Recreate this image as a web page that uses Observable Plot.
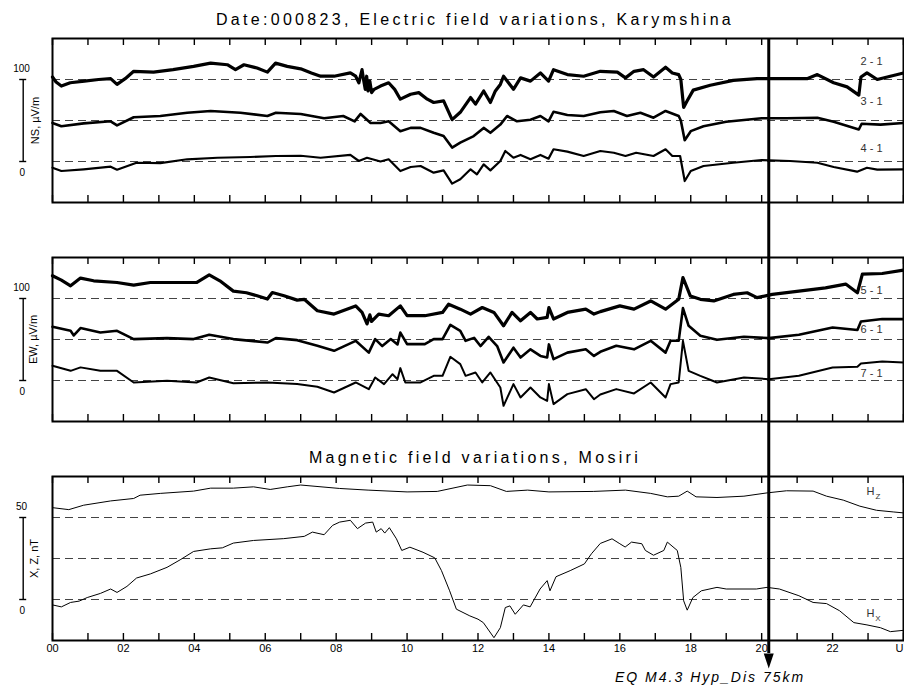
<!DOCTYPE html>
<html><head><meta charset="utf-8">
<script src="https://cdn.jsdelivr.net/npm/d3@7"></script>
<script src="https://cdn.jsdelivr.net/npm/@observablehq/plot@0.6"></script>
<style>
body{margin:0;background:#fff;}
#chart{position:relative;width:904px;height:686px;background:#fff;font-family:'Liberation Sans',Arial,sans-serif;overflow:hidden;color:#000}
#chart svg{position:absolute;left:0;}
.title{position:absolute;left:0;width:950px;text-align:center;font-size:16px;letter-spacing:3.3px;line-height:20px;white-space:nowrap}
.eq{position:absolute;left:615px;top:669px;font-size:14px;font-style:italic;letter-spacing:2px;line-height:16px;white-space:nowrap}
</style></head><body>
<div id="chart"></div>
<script>
// ---------- data ----------
const titleTop = "Date:000823, Electric field variations, Karymshina";
const titleMag = "Magnetic field variations, Mosiri";
const eqLabel = "EQ M4.3 Hyp_Dis 75km";
const eqTime = 20.2;

const tickHours = [0,1,2,3,4,5,6,7,8,9,10,11,12,13,14,15,16,17,18,19,20,21,22,23,24];
const labelHours = [0,2,4,6,8,10,12,14,16,18,20,22];
const labelTexts = ["00","02","04","06","08","10","12","14","16","18","20","22"];
const lastHour = 24;
const lastText = "U";

// electric NS  (µV/m, offsets 100 / 50 / 0)
const s21 = [[0,103],[0.1,97],[0.25,92],[0.5,96],[0.9,98],[1.3,100],[1.64,101],[1.82,94],[2.05,101],[2.29,110],[2.85,109],[3.4,112],[3.98,116],[4.46,120],[4.93,118],[5.16,112],[5.4,118],[5.77,114],[6.06,109],[6.29,120],[6.62,116],[7.0,113],[7.3,108],[7.56,104],[7.94,104],[8.4,108],[8.55,104],[8.64,96],[8.73,112],[8.78,98],[8.82,88],[8.86,104],[8.9,86],[8.95,98],[9.0,84],[9.07,88],[9.25,92],[9.48,96],[9.65,88],[9.81,76],[10.1,82],[10.33,84],[10.57,76],[10.75,72],[11.03,74],[11.27,51],[11.5,60],[11.79,78],[11.93,70],[12.16,86],[12.35,72],[12.49,86],[12.63,94],[12.72,104],[12.86,96],[13.0,88],[13.2,102],[13.48,98],[13.76,108],[13.99,98],[14.13,112],[14.52,106],[14.98,104],[15.45,110],[15.93,109],[16.16,102],[16.4,110],[16.67,112],[16.95,103],[17.29,115],[17.48,108],[17.66,106],[17.72,100],[17.8,66],[17.9,74],[18.07,87],[18.55,93],[19.2,99],[19.87,101],[20.6,101],[21.28,101],[21.57,106],[22.03,96],[22.41,91],[22.74,81],[22.8,103],[22.97,108],[23.26,100],[23.63,104],[24,108]];
const s31 = [[0,47],[0.25,43],[0.88,46.5],[1.64,49],[1.82,44],[2.29,54],[3.04,55.5],[3.8,59.5],[4.46,61.6],[5.3,59.5],[6.06,55.5],[6.3,59.5],[7.0,58],[7.66,52.7],[8.2,55.5],[8.52,49],[8.69,58],[8.97,47],[9.25,47],[9.48,49],[9.81,37],[10.1,41],[10.38,41],[10.75,35],[11.03,31],[11.27,17],[11.5,23],[11.88,31],[12.16,41],[12.35,35],[12.63,45],[12.82,55.5],[13.1,49],[13.48,51],[13.76,55.5],[13.99,49],[14.13,60.7],[14.52,56.7],[14.98,55.5],[15.45,60],[15.83,61.6],[16.2,55.5],[16.58,59.5],[16.95,53.4],[17.29,61.6],[17.66,55.5],[17.72,50],[17.83,26],[18.0,37],[18.36,43],[19.0,48.5],[20.0,52.7],[20.7,52.7],[21.57,53.4],[22.03,48.5],[22.74,39],[22.82,46],[23.35,45],[24,47]];
const s41 = [[0,-7.6],[0.25,-11.6],[0.88,-9.5],[1.64,-6.3],[1.82,-10],[2.37,-1.5],[3.04,-2],[3.8,2.7],[4.65,4.6],[5.58,5.5],[6.3,6.7],[7.0,7],[7.56,4.6],[8.4,8],[8.64,0.6],[8.87,4.6],[9.25,0],[9.48,2.7],[9.81,-11.6],[10.1,-6.7],[10.38,-5.5],[10.75,-13.6],[11.03,-10.8],[11.27,-27],[11.5,-21.7],[11.79,-9.5],[11.97,-15.6],[12.16,-3.5],[12.35,-10.8],[12.63,0.6],[12.77,12.8],[13.0,4.6],[13.2,8],[13.48,2.7],[13.76,8],[13.99,3.5],[14.13,14.9],[14.52,12],[14.98,6.7],[15.45,12.8],[15.83,10.7],[16.16,6.7],[16.46,10.7],[16.95,6.7],[17.29,14.9],[17.48,6.7],[17.7,6.7],[17.83,-23.8],[18.0,-11.6],[18.36,-5.5],[19.2,-1.5],[20.0,1.8],[20.8,0.6],[21.57,-1.5],[22.03,-6.7],[22.69,-12.4],[22.97,-7.6],[23.26,-10],[24,-9.5]];

// electric EW  (µV/m, offsets 100 / 50 / 0)
const s51 = [[0,127.7],[0.25,122.4],[0.51,115.5],[0.79,124.9],[1.16,121.6],[1.82,119.5],[2.29,116.3],[2.76,119.5],[3.5,119.5],[4.06,119.5],[4.42,128.9],[4.72,121.6],[5.1,109],[5.47,107],[5.77,103.3],[6.06,99.3],[6.2,107.3],[6.53,103.3],[6.9,98],[7.1,99],[7.47,85],[7.94,81],[8.55,91],[8.73,83],[8.87,69],[8.95,80],[9.0,72],[9.2,81],[9.48,79],[9.81,91],[10.0,79],[10.5,79],[11.0,83],[11.17,93],[11.5,87],[11.79,81],[12.12,89],[12.45,83],[12.72,66.7],[12.96,83],[13.2,72.8],[13.48,83],[13.67,75],[13.95,77],[14.0,89],[14.13,75],[14.52,83],[15.04,87],[15.27,81],[15.45,84],[16.0,91],[16.4,87],[16.87,97],[17.29,87],[17.66,99],[17.78,125.6],[17.99,103],[18.27,99],[18.65,97],[19.2,105],[19.59,107],[19.87,101],[20.3,105],[21.05,109],[21.8,113],[22.37,117.6],[22.7,107],[22.84,129.8],[23.4,130.5],[24,134.6]];
const s61 = [[0,65.5],[0.51,60.6],[0.6,55],[0.79,63.9],[1.35,58.5],[1.82,60.6],[2.29,50.5],[3.23,51.7],[3.98,50.5],[4.42,55.7],[5.1,50.5],[6.06,46.3],[6.3,51.7],[6.9,49.2],[7.47,42.3],[7.94,36.2],[8.55,48.4],[8.92,34],[9.1,50.5],[9.3,42],[9.54,50.5],[9.73,44],[9.81,58.5],[10.0,44.4],[10.5,44.4],[10.75,50.5],[11.0,50.5],[11.22,67.9],[11.5,60.6],[11.65,48.4],[11.89,52],[12.07,42],[12.3,53.3],[12.54,42],[12.72,22],[13.0,40],[13.2,28],[13.48,38],[13.76,30],[13.95,28],[14.0,44],[14.13,26],[14.52,34],[15.04,38],[15.27,30],[15.45,35],[15.9,42.3],[16.4,38],[16.87,48.4],[17.29,34],[17.43,48.4],[17.66,48.4],[17.78,88.3],[17.94,66.7],[18.27,54.5],[18.74,49.6],[19.5,53.3],[20.2,51.7],[21.05,55.7],[22.0,64.7],[22.7,61.5],[22.8,72],[23.4,74.9],[24,74.9]];
const s71 = [[0,17.9],[0.51,11.8],[0.79,16],[1.35,11.8],[1.82,11.8],[2.29,-2.4],[3.23,-0.4],[4.06,-2.4],[4.42,3.7],[5.1,-3.3],[6.06,-2.4],[6.9,-4.4],[7.47,-7.6],[7.94,-14.6],[8.55,-2.4],[8.92,-10.6],[9.1,3.7],[9.35,-4.4],[9.59,7.7],[9.73,1.6],[9.81,15.1],[9.95,-2.4],[10.38,-2.4],[10.75,5.7],[11.0,5.7],[11.22,28.9],[11.5,20],[11.65,5.7],[11.93,9.8],[12.12,-2.4],[12.35,9.8],[12.63,-8.5],[12.72,-30.9],[13.0,-4.4],[13.2,-20.7],[13.48,-8.5],[13.76,-20.7],[13.95,-24.8],[14.0,-4.4],[14.13,-28.8],[14.52,-16.6],[15.04,-10.6],[15.27,-22.8],[15.45,-17],[15.9,-10.5],[16.4,-15.8],[16.87,-2.4],[17.29,-20.7],[17.43,-4.4],[17.66,-2.4],[17.78,48.4],[17.94,11.8],[18.27,5.7],[18.74,-2.4],[19.5,3.7],[20.2,1.6],[21.05,5.7],[22.0,15.9],[22.7,16.7],[22.8,20.7],[23.4,23.2],[24,22]];

// magnetic (nT)
const hz = [[0,56],[0.46,54.8],[0.88,57.5],[1.64,60.1],[2.29,61.6],[2.47,63.6],[3.04,64.7],[3.98,66.1],[4.46,67.9],[5.1,67.9],[5.67,68.7],[6.14,67.1],[6.62,68.7],[7.0,69.8],[8.1,67.7],[8.9,66.7],[10.0,65.6],[10.85,65.9],[11.7,69.8],[12.35,69.4],[12.8,65.9],[13.4,66.7],[14.0,65.6],[15.25,65.9],[16.16,66.7],[16.87,64.7],[17.34,62.6],[17.66,63],[17.9,66.1],[18.15,62.6],[18.74,62.2],[19.5,63],[20.15,65],[20.7,66.3],[21.45,66.1],[21.83,63],[22.3,60.6],[22.77,56.9],[23.24,54.4],[23.71,53.4],[24,52.8]];
const hx = [[0,-3.3],[0.25,-4.5],[0.51,-1.8],[0.75,-1],[0.98,1.2],[1.35,3.7],[1.64,6.4],[1.82,4.3],[2.1,8],[2.37,13.1],[2.76,15.6],[3.23,19.6],[3.6,24.2],[3.98,29.3],[4.46,30.9],[4.79,31.5],[5.1,34.4],[5.67,36],[6.52,37.1],[7.1,38.5],[7.33,41.1],[7.66,39.5],[7.9,45.2],[8.1,47.2],[8.4,48.3],[8.6,43.2],[8.83,46.6],[9.03,47.2],[9.13,41.1],[9.27,43.2],[9.37,40.5],[9.5,43.8],[9.7,37],[9.85,29.9],[10.08,31.9],[10.45,28.8],[10.78,25.4],[10.97,17.6],[11.2,5.3],[11.39,-5.9],[11.77,-10],[12.0,-12],[12.15,-14.1],[12.45,-23.3],[12.63,-17.2],[12.77,-4.9],[12.9,-3.9],[13.05,-9],[13.28,-3.3],[13.47,-4.5],[13.75,6.4],[13.95,11.5],[14.03,5.3],[14.2,13.9],[14.6,17.6],[15.0,21.7],[15.2,27.9],[15.45,34.2],[15.78,37],[16.0,34],[16.15,32],[16.33,35],[16.62,34],[16.72,29.9],[16.95,27],[17.24,29.9],[17.34,35],[17.62,29.9],[17.72,19.6],[17.8,-0.8],[17.9,-6.5],[18.06,1.2],[18.3,5.3],[18.74,7.4],[19.0,6.4],[19.85,6.4],[20.15,7.4],[20.5,6.4],[21.05,2.3],[21.45,-1.8],[21.83,-2.5],[22.2,-6.9],[22.6,-14.1],[22.97,-15.5],[23.35,-17.2],[23.63,-19.6],[24,-18.8]];

const nsNames = ["2 - 1","3 - 1","4 - 1"];
const ewNames = ["5 - 1","6 - 1","7 - 1"];
const elBaselines = [100,50,0];
const magBaselines = [50,25,0];
const elBar = [0,100];
const magBar = [0,50];

// ---------- layout / style ----------
const W = 904, ML = 52, MR = 1;
const font = "'Liberation Sans', Arial, sans-serif";
const triDown = {draw(ctx){ ctx.moveTo(-5,-7.5); ctx.lineTo(5,-7.5); ctx.lineTo(0,7.5); ctx.closePath(); }};

function panel(cfg){
  const frameH = cfg.height - cfg.mt - cfg.mb;
  const marks = [
    Plot.ruleY(cfg.baselines, {y: d => d, stroke: "#444", strokeWidth: 1.2, strokeDasharray: "8,5"}),
    ...cfg.series.map((s, i) => Plot.line(s, {x: d => d[0], y: d => d[1], stroke: "#000", strokeWidth: cfg.widths[i], strokeLinejoin: "round", curve: "linear"})),
    Plot.ruleX(tickHours, {x: d => d, insetBottom: frameH - 7, strokeWidth: 1.4}),
    Plot.ruleX(tickHours, {x: d => d, insetTop: frameH - 7, strokeWidth: 1.4}),
    Plot.frame({stroke: "#000", strokeWidth: 2}),
    // scale bar on the left
    Plot.ruleX([0], {x: d => d, y1: cfg.bar[0], y2: cfg.bar[1], dx: -29.3, strokeWidth: 1.4}),
    Plot.ruleY(cfg.bar, {y: d => d, x1: 0, x2: 0, dx: -29.3, insetLeft: -3.5, insetRight: -3.5, strokeWidth: 1.4}),
    Plot.text([cfg.bar[1]], {y: d => d, frameAnchor: "left", textAnchor: "middle", dx: -31, dy: -11, text: d => String(d), fontSize: 10}),
    Plot.text([cfg.bar[0]], {y: d => d, frameAnchor: "left", textAnchor: "middle", dx: -30.3, dy: 11, text: d => String(d), fontSize: 10}),
    Plot.text([cfg.yLabel], {y: (cfg.bar[0] + cfg.bar[1]) / 2, frameAnchor: "left", textAnchor: "middle", dx: cfg.ylDx, rotate: -90, text: d => d, fontSize: 11}),
    // earthquake line
    Plot.ruleX([eqTime], {x: d => d, insetTop: -cfg.arrowUp, insetBottom: -cfg.arrowDown, strokeWidth: 3, stroke: "#000"})
  ];
  if (cfg.names) {
    cfg.names.forEach((n, i) => marks.push(
      Plot.text([n], {x: 23.1, y: cfg.baselines[i], dy: cfg.labelDy[i], text: d => d, fontSize: 11, fill: "#333"})
    ));
  }
  if (cfg.extra) marks.push(...cfg.extra);
  const svg = Plot.plot({
    width: W, height: cfg.height,
    marginLeft: ML, marginRight: MR, marginTop: cfg.mt, marginBottom: cfg.mb,
    x: {domain: [0, 24], axis: null},
    y: {domain: cfg.yDomain, axis: null},
    style: {fontFamily: font, fontSize: "11px", background: "transparent", overflow: "visible", color: "#000"},
    marks
  });
  svg.style.top = cfg.top + "px";
  return svg;
}

const chart = document.getElementById("chart");

chart.appendChild(panel({
  top: 0, height: 230, mt: 38, mb: 28, yDomain: [-50, 150],
  series: [s21, s31, s41], widths: [3.2, 2.6, 2.2],
  baselines: elBaselines, bar: elBar, yLabel: "NS, µV/m", ylDx: -17,
  names: nsNames, labelDy: [-18.5, -19.5, -13.5],
  arrowUp: 0, arrowDown: 28
}));

chart.appendChild(panel({
  top: 230, height: 220, mt: 27, mb: 29, yDomain: [-50, 150],
  series: [s51, s61, s71], widths: [3.2, 2.6, 2],
  baselines: elBaselines, bar: elBar, yLabel: "EW, µV/m", ylDx: -19,
  names: ewNames, labelDy: [-8.5, -10, -7],
  arrowUp: 27, arrowDown: 29
}));

chart.appendChild(panel({
  top: 450, height: 236, mt: 26, mb: 46, yDomain: [-25, 75],
  series: [hz, hx], widths: [1, 1],
  baselines: magBaselines, bar: magBar, yLabel: "X, Z, nT", ylDx: -18,
  arrowUp: 26, arrowDown: 13,
  extra: [
    Plot.text(labelHours, {x: d => d, frameAnchor: "bottom", dy: 11, text: (d, i) => labelTexts[i], fontSize: 11}),
    Plot.text([lastHour], {x: d => d, frameAnchor: "bottom", dy: 11, text: () => lastText, textAnchor: "end", fontSize: 11}),
    Plot.dot([eqTime], {x: d => d, frameAnchor: "bottom", dy: 20.5, symbol: triDown, r: 5, fill: "#000", stroke: "none"}),
    Plot.text(["H"], {x: 23.07, y: 65.8, text: d => d, fontSize: 11, fill: "#333"}),
    Plot.text(["Z"], {x: 23.07, y: 65.8, dx: 7.5, dy: 5, text: d => d, fontSize: 8, fill: "#333"}),
    Plot.text(["H"], {x: 23.07, y: -8.4, text: d => d, fontSize: 11, fill: "#333"}),
    Plot.text(["X"], {x: 23.07, y: -8.4, dx: 7.5, dy: 5, text: d => d, fontSize: 8, fill: "#333"})
  ]
}));

function addText(cls, txt, top){
  const d = document.createElement("div");
  d.className = cls; d.textContent = txt;
  if (top !== undefined) d.style.top = top + "px";
  chart.appendChild(d);
}
addText("title", titleTop, 10);
addText("title", titleMag, 448);
addText("eq", eqLabel);
</script>
</body></html>
